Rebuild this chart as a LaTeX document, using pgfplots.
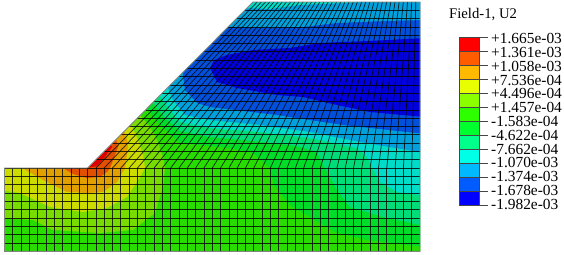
\documentclass[border=0pt]{standalone}
\usepackage{fontspec}
\setmainfont{Liberation Serif}
\usepackage{pgfplots}
\pgfplotsset{compat=1.18}
\definecolor{ba}{RGB}{225,0,0}
\definecolor{bb}{RGB}{225,80,0}
\definecolor{bc}{RGB}{225,160,0}
\definecolor{bd}{RGB}{205,220,0}
\definecolor{be}{RGB}{120,220,0}
\definecolor{bf}{RGB}{40,220,0}
\definecolor{bg}{RGB}{0,220,40}
\definecolor{bh}{RGB}{0,220,120}
\definecolor{bi}{RGB}{0,220,200}
\definecolor{bj}{RGB}{0,160,220}
\definecolor{bk}{RGB}{0,80,220}
\definecolor{bl}{RGB}{0,0,220}
\definecolor{la}{HTML}{FF0000}
\definecolor{lb}{HTML}{FF5C00}
\definecolor{lc}{HTML}{FFB900}
\definecolor{ld}{HTML}{E7FF00}
\definecolor{le}{HTML}{8BFF00}
\definecolor{lf}{HTML}{2EFF00}
\definecolor{lg}{HTML}{00FF2E}
\definecolor{lh}{HTML}{00FF8B}
\definecolor{li}{HTML}{00FFE7}
\definecolor{lj}{HTML}{00B9FF}
\definecolor{lk}{HTML}{005CFF}
\definecolor{ll}{HTML}{0000FF}
\begin{document}
\begin{tikzpicture}
\begin{axis}[
  scale only axis, width=564pt, height=254pt,
  xmin=0, xmax=564, ymin=0, ymax=254, y dir=reverse,
  axis lines=none, unbounded coords=jump,
  every axis plot/.append style={forget plot}
]
\path (axis cs:0,0) rectangle (axis cs:564,254);
% base band
\addplot[fill=bf,draw=none] coordinates {(0,0)(430,0)(430,254)(0,254)} --cycle;
% warm bands
\addplot[fill=be,draw=none] coordinates {(0,218)(33,220)(53,230)(100,233)(133,230)(155,213)(163,187)(165,168)(163,157)(157,140)(150,127)(140,115)(0,115)} --cycle;
\addplot[fill=bd,draw=none] coordinates {(0,190)(20,193)(50,207)(83,212)(107,208)(127,197)(140,177)(145,168)(143,155)(138,140)(132,127)(128,122)(0,122)} --cycle;
\addplot[fill=bc,draw=none] coordinates {(22,168)(43,180)(67,192)(87,193)(103,192)(117,182)(125,168)(127,155)(128,143)(124,131)(118,128)(22,128)} --cycle;
\addplot[fill=bb,draw=none] coordinates {(63,168)(73,174)(87,178)(100,177)(107,172)(110,168)(114,158)(118,147)(116,139)(112,135)(63,135)} --cycle;
\addplot[fill=ba,draw=none] coordinates {(87,168)(97,166)(105,157)(112,147)(110,143)(87,143)} --cycle;
% cold bands
\addplot[fill=bg,draw=none] coordinates {(147,109)(160,125)(180,143)(230,148)(253,153)(270,168)(274,185)(290,205)(313,219)(335,232)(367,240)(425,247)(425,0)(147,0)} --cycle;
\addplot[fill=bh,draw=none] coordinates {(153,103)(165,118)(180,131)(210,137)(243,140)(290,145)(300,147)(317,152)(323,165)(330,177)(337,190)(350,207)(383,217)(425,226)(425,0)(153,0)} --cycle;
\addplot[fill=bi,draw=none] coordinates {(160,96)(170,110)(180,122)(210,128)(260,132)(310,138)(357,148)(367,157)(372,167)(380,182)(397,192)(425,196)(425,0)(160,0)} --cycle;
\addplot[fill=bj,draw=none] coordinates {(168,88)(173,100)(185,115)(210,120)(260,125)(310,132)(360,142)(425,153)(425,0)(168,0)} --cycle;
\addplot[fill=bk,draw=none] coordinates {(183,75)(185,90)(197,103)(210,107)(277,115)(343,125)(425,134)(425,0)(183,0)} --cycle;
\addplot[fill=bj,draw=none] coordinates {(225,27)(270,28)(303,27)(337,23)(387,21)(425,20)(425,0)(225,0)} --cycle;
\addplot[fill=bi,draw=none] coordinates {(247,8)(270,9)(300,5)(345,3)(370,1.5)(370,0)(247,0)} --cycle;
\addplot[fill=bl,draw=none] coordinates {(210,68)(214,60)(227,55)(253,50)(290,48)(320,43)(370,41)(425,38)(425,117)(370,112)(337,105)(303,97)(277,95)(237,88)(217,82)} --cycle;
% white mask round the part
\addplot[fill=white,draw=none] coordinates {(-2,-2)(432,-2)(432,256)(-2,256)(-2,251.5)(420.3,251.5)(420.3,2)(253,2)(87.6,168)(4.5,168)(4.5,251.5)(-2,251.5)} --cycle;
% mesh, lower block: horizontals
\addplot[black,opacity=0.8,line width=0.72pt] coordinates {
(4.5,176.3)(420,176.3)(nan,nan)(4.5,184.7)(420,184.7)(nan,nan)(4.5,193)(420,193)(nan,nan)(4.5,201.3)(420,201.3)(nan,nan)(4.5,209.7)(420,209.7)(nan,nan)
(4.5,218)(420,218)(nan,nan)(4.5,226.3)(420,226.3)(nan,nan)(4.5,234.7)(420,234.7)(nan,nan)(4.5,243)(420,243)(nan,nan)(4.5,168)(420,168)};
% mesh, lower block: verticals
\addplot[black,opacity=0.8,line width=0.72pt] coordinates {
(12.8,168)(12.8,251.3)(nan,nan)(21.1,168)(21.1,251.3)(nan,nan)(29.4,168)(29.4,251.3)(nan,nan)(37.7,168)(37.7,251.3)(nan,nan)(46,168)(46,251.3)(nan,nan)
(54.4,168)(54.4,251.3)(nan,nan)(62.7,168)(62.7,251.3)(nan,nan)(71,168)(71,251.3)(nan,nan)(79.3,168)(79.3,251.3)(nan,nan)(87.6,168)(87.6,251.3)(nan,nan)
(95.9,168)(95.9,251.3)(nan,nan)(104.2,168)(104.2,251.3)(nan,nan)(112.5,168)(112.5,251.3)(nan,nan)(120.8,168)(120.8,251.3)(nan,nan)(129.2,168)(129.2,251.3)(nan,nan)
(137.5,168)(137.5,251.3)(nan,nan)(145.8,168)(145.8,251.3)(nan,nan)(154.1,168)(154.1,251.3)(nan,nan)(162.4,168)(162.4,251.3)(nan,nan)(170.7,168)(170.7,251.3)(nan,nan)
(179,168)(179,251.3)(nan,nan)(187.3,168)(187.3,251.3)(nan,nan)(195.6,168)(195.6,251.3)(nan,nan)(203.9,168)(203.9,251.3)(nan,nan)(212.3,168)(212.3,251.3)(nan,nan)
(220.6,168)(220.6,251.3)(nan,nan)(228.9,168)(228.9,251.3)(nan,nan)(237.2,168)(237.2,251.3)(nan,nan)(245.5,168)(245.5,251.3)(nan,nan)(253.8,168)(253.8,251.3)(nan,nan)
(262.1,168)(262.1,251.3)(nan,nan)(270.4,168)(270.4,251.3)(nan,nan)(278.7,168)(278.7,251.3)(nan,nan)(287,168)(287,251.3)(nan,nan)(295.4,168)(295.4,251.3)(nan,nan)
(303.7,168)(303.7,251.3)(nan,nan)(312,168)(312,251.3)(nan,nan)(320.3,168)(320.3,251.3)(nan,nan)(328.6,168)(328.6,251.3)(nan,nan)(336.9,168)(336.9,251.3)(nan,nan)
(345.2,168)(345.2,251.3)(nan,nan)(353.5,168)(353.5,251.3)(nan,nan)(361.8,168)(361.8,251.3)(nan,nan)(370.1,168)(370.1,251.3)(nan,nan)(378.5,168)(378.5,251.3)(nan,nan)
(386.8,168)(386.8,251.3)(nan,nan)(395.1,168)(395.1,251.3)(nan,nan)(403.4,168)(403.4,251.3)(nan,nan)(411.7,168)(411.7,251.3)};
% mesh, upper block: horizontals
\addplot[black,opacity=0.8,line width=0.72pt] coordinates {
(95.9,159.7)(420,159.7)(nan,nan)(104.1,151.4)(420,151.4)(nan,nan)(112.4,143.1)(420,143.1)(nan,nan)(120.7,134.8)(420,134.8)(nan,nan)(129,126.5)(420,126.5)(nan,nan)
(137.2,118.2)(420,118.2)(nan,nan)(145.5,109.9)(420,109.9)(nan,nan)(153.8,101.6)(420,101.6)(nan,nan)(162,93.3)(420,93.3)(nan,nan)(170.3,85)(420,85)(nan,nan)
(178.6,76.7)(420,76.7)(nan,nan)(186.8,68.4)(420,68.4)(nan,nan)(195.1,60.1)(420,60.1)(nan,nan)(203.4,51.8)(420,51.8)(nan,nan)(211.7,43.5)(420,43.5)(nan,nan)
(219.9,35.2)(420,35.2)(nan,nan)(228.2,26.9)(420,26.9)(nan,nan)(236.5,18.6)(420,18.6)(nan,nan)(244.7,10.3)(420,10.3)};
% mesh, upper block: skew lines
\addplot[black,opacity=0.8,line width=0.72pt] coordinates {
(95.9,168)(257.2,2)(nan,nan)(104.2,168)(261.4,2)(nan,nan)(112.5,168)(265.5,2)(nan,nan)(120.8,168)(269.7,2)(nan,nan)(129.2,168)(273.9,2)(nan,nan)
(137.5,168)(278.1,2)(nan,nan)(145.8,168)(282.2,2)(nan,nan)(154.1,168)(286.4,2)(nan,nan)(162.4,168)(290.6,2)(nan,nan)(170.7,168)(294.8,2)(nan,nan)
(179,168)(298.9,2)(nan,nan)(187.3,168)(303.1,2)(nan,nan)(195.6,168)(307.3,2)(nan,nan)(203.9,168)(311.5,2)(nan,nan)(212.3,168)(315.6,2)(nan,nan)
(220.6,168)(319.8,2)(nan,nan)(228.9,168)(324,2)(nan,nan)(237.2,168)(328.2,2)(nan,nan)(245.5,168)(332.3,2)(nan,nan)(253.8,168)(336.5,2)(nan,nan)
(262.1,168)(340.7,2)(nan,nan)(270.4,168)(344.9,2)(nan,nan)(278.7,168)(349,2)(nan,nan)(287,168)(353.2,2)(nan,nan)(295.4,168)(357.4,2)(nan,nan)
(303.7,168)(361.6,2)(nan,nan)(312,168)(365.7,2)(nan,nan)(320.3,168)(369.9,2)(nan,nan)(328.6,168)(374.1,2)(nan,nan)(336.9,168)(378.3,2)(nan,nan)
(345.2,168)(382.4,2)(nan,nan)(353.5,168)(386.6,2)(nan,nan)(361.8,168)(390.8,2)(nan,nan)(370.1,168)(395,2)(nan,nan)(378.5,168)(399.1,2)(nan,nan)
(386.8,168)(403.3,2)(nan,nan)(395.1,168)(407.5,2)(nan,nan)(403.4,168)(411.7,2)(nan,nan)(411.7,168)(415.8,2)};
% outline
\addplot[draw={rgb,255:red,125;green,135;blue,125},line width=0.9pt] coordinates {(4.5,168)(87.6,168)(253,2)(420,2)(420,251.3)(4.5,251.3)} --cycle;
% colour bar
\addplot[fill=la,draw=none] coordinates {(459,37)(479.5,37)(479.5,51)(459,51)} --cycle;
\addplot[fill=lb,draw=none] coordinates {(459,51)(479.5,51)(479.5,65)(459,65)} --cycle;
\addplot[fill=lc,draw=none] coordinates {(459,65)(479.5,65)(479.5,79)(459,79)} --cycle;
\addplot[fill=ld,draw=none] coordinates {(459,79)(479.5,79)(479.5,93)(459,93)} --cycle;
\addplot[fill=le,draw=none] coordinates {(459,93)(479.5,93)(479.5,107)(459,107)} --cycle;
\addplot[fill=lf,draw=none] coordinates {(459,107)(479.5,107)(479.5,121)(459,121)} --cycle;
\addplot[fill=lg,draw=none] coordinates {(459,121)(479.5,121)(479.5,135)(459,135)} --cycle;
\addplot[fill=lh,draw=none] coordinates {(459,135)(479.5,135)(479.5,149)(459,149)} --cycle;
\addplot[fill=li,draw=none] coordinates {(459,149)(479.5,149)(479.5,163)(459,163)} --cycle;
\addplot[fill=lj,draw=none] coordinates {(459,163)(479.5,163)(479.5,177)(459,177)} --cycle;
\addplot[fill=lk,draw=none] coordinates {(459,177)(479.5,177)(479.5,191)(459,191)} --cycle;
\addplot[fill=ll,draw=none] coordinates {(459,191)(479.5,191)(479.5,205)(459,205)} --cycle;
% colour bar ticks
\addplot[draw={rgb,255:red,70;green,70;blue,70},line width=0.5pt] coordinates {
(459,37)(488,37)(nan,nan)(459,51)(488,51)(nan,nan)(459,65)(488,65)(nan,nan)(459,79)(488,79)(nan,nan)(459,93)(488,93)(nan,nan)(459,107)(488,107)(nan,nan)(459,121)(488,121)(nan,nan)
(459,135)(488,135)(nan,nan)(459,149)(488,149)(nan,nan)(459,163)(488,163)(nan,nan)(459,177)(488,177)(nan,nan)(459,191)(488,191)(nan,nan)(459,205)(488,205)(nan,nan)(459,37)(459,205)(nan,nan)(479.5,37)(479.5,205)};
% texts
\node[anchor=west,inner sep=0pt,font=\fontsize{14.7}{15}\selectfont] at (axis cs:449,15) {Field-1, U2};
\begin{scope}[every node/.style={anchor=west,inner sep=0pt,font=\fontsize{15.4}{16}\selectfont}]
\node at (axis cs:491,38.5) {+1.665e-03};
\node at (axis cs:491,52.5) {+1.361e-03};
\node at (axis cs:491,66) {+1.058e-03};
\node at (axis cs:491,80) {+7.536e-04};
\node at (axis cs:491,93.5) {+4.496e-04};
\node at (axis cs:491,107.5) {+1.457e-04};
\node at (axis cs:491,121) {-1.583e-04};
\node at (axis cs:491,135) {-4.622e-04};
\node at (axis cs:491,149) {-7.662e-04};
\node at (axis cs:491,162.5) {-1.070e-03};
\node at (axis cs:491,176.5) {-1.374e-03};
\node at (axis cs:491,190) {-1.678e-03};
\node at (axis cs:491,204) {-1.982e-03};
\end{scope}
\end{axis}
\end{tikzpicture}
\end{document}
